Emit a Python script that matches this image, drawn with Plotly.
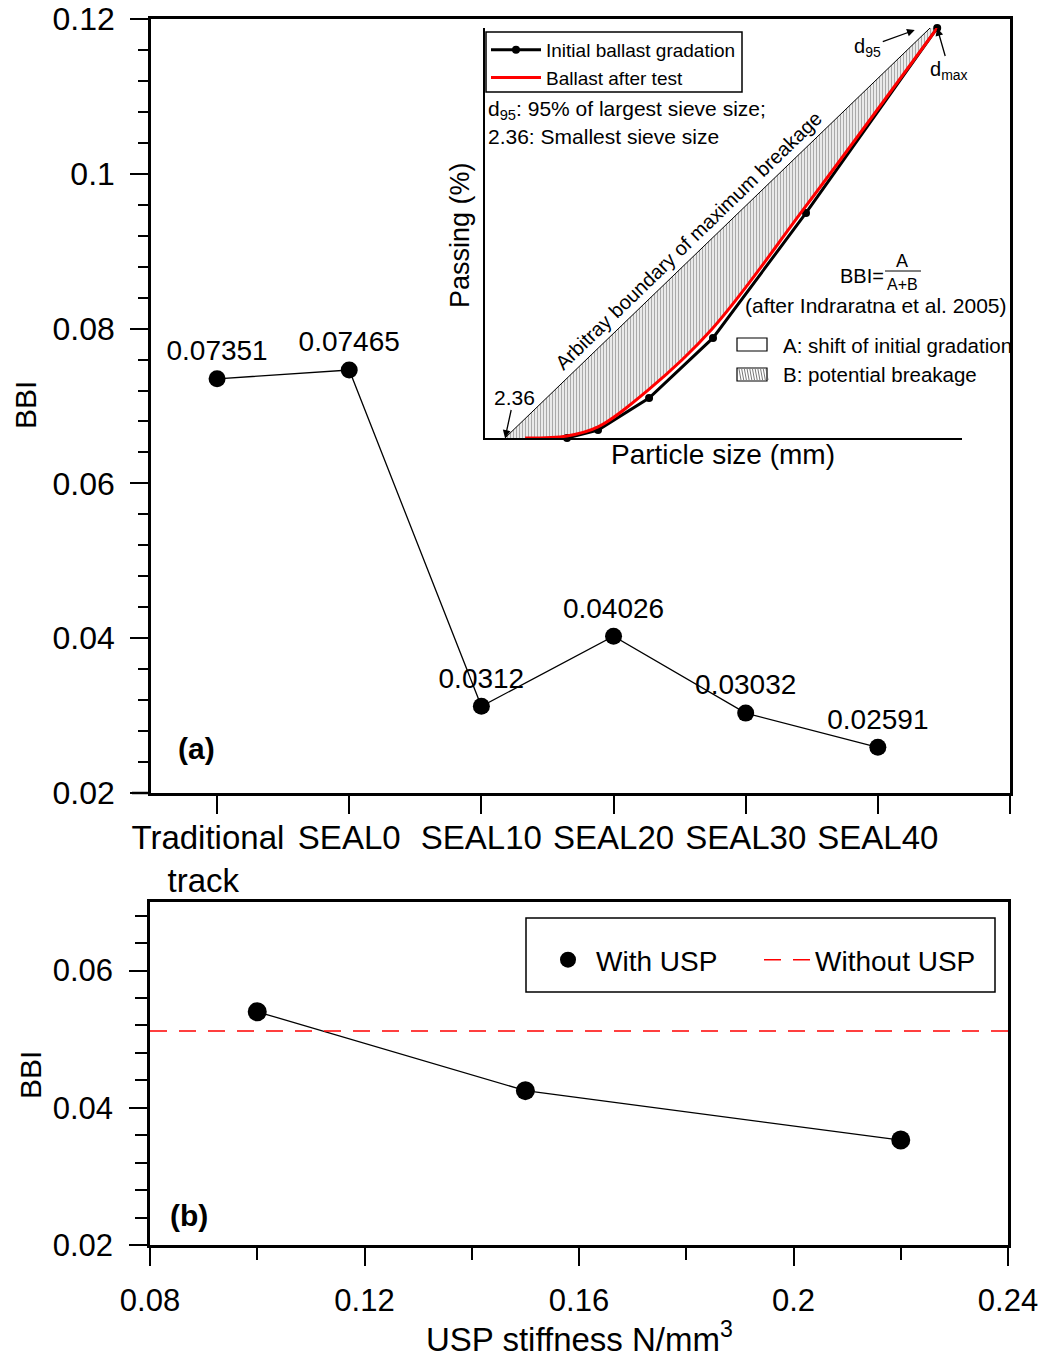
import plotly.graph_objects as go

W, H = 1046, 1358
FONT = "Liberation Sans, Arial, sans-serif"

# ---------------- data (a) ----------------
cases = ["Traditional&nbsp;&nbsp;<br>track&nbsp;&nbsp;&nbsp;", "SEAL0", "SEAL10", "SEAL20", "SEAL30", "SEAL40"]
bbi_a = [0.07351, 0.07465, 0.0312, 0.04026, 0.03032, 0.02591]
bbi_a_labels = ["0.07351", "0.07465", "0.0312", "0.04026", "0.03032", "0.02591"]
a_yticks = [0.02, 0.04, 0.06, 0.08, 0.10, 0.12]
a_yticklabels = ["0.02", "0.04", "0.06", "0.08", "0.1", "0.12"]

# ---------------- data (b) ----------------
usp_stiffness = [0.10, 0.15, 0.22]
bbi_b = [0.0540, 0.0425, 0.0353]
bbi_without_usp = 0.0512
b_xrange = [0.08, 0.24]
b_xticks = [0.08, 0.12, 0.16, 0.20, 0.24]
b_xticklabels = ["0.08", "0.12", "0.16", "0.2", "0.24"]
b_yticks = [0.02, 0.04, 0.06]
b_yticklabels = ["0.02", "0.04", "0.06"]

# ---------------- inset schematic (arbitrary units 0-100) ----------------
init_size = [17.2, 23.7, 34.4, 47.8, 67.3, 94.8]
init_pass = [0.0, 1.95, 9.76, 24.4, 54.9, 100.0]
after_size = [8.4, 17.2, 23.7, 34.0, 47.6, 67.3, 94.8]
after_pass = [0.0, 0.5, 2.7, 11.5, 26.6, 56.6, 100.0]
boundary_size = [4.2, 93.3]
boundary_pass = [0.0, 100.0]


def px(x):
    return x / W


def py(y):
    return 1 - y / H


fig = go.Figure()

# (a) main series
fig.add_trace(go.Scatter(
    x=list(range(len(cases))), y=bbi_a, mode="lines+markers+text",
    text=bbi_a_labels, textposition="top center",
    textfont=dict(size=28, color="black", family=FONT),
    line=dict(color="black", width=1.3), marker=dict(size=17, color="black"),
    showlegend=False, xaxis="x", yaxis="y", cliponaxis=False))

# inset: hatched region between boundary and after-test curve
hx = boundary_size + after_size[::-1] + [boundary_size[0]]
hy = boundary_pass + after_pass[::-1] + [boundary_pass[0]]
fig.add_trace(go.Scatter(
    x=hx, y=hy, mode="lines", fill="toself", line=dict(width=0, color="rgba(0,0,0,0)"),
    fillcolor="white",
    fillpattern=dict(shape="|", size=3, solidity=0.5, fgcolor="#555555", bgcolor="white"),
    showlegend=False, xaxis="x3", yaxis="y3", hoverinfo="skip"))
fig.add_trace(go.Scatter(
    x=boundary_size, y=boundary_pass, mode="lines", line=dict(color="black", width=1),
    showlegend=False, xaxis="x3", yaxis="y3"))
fig.add_trace(go.Scatter(
    x=init_size, y=init_pass, mode="lines+markers", name="Initial ballast gradation",
    line=dict(color="black", width=3), marker=dict(size=8, color="black"),
    xaxis="x3", yaxis="y3", legend="legend2", cliponaxis=False))
fig.add_trace(go.Scatter(
    x=after_size, y=after_pass, mode="lines", name="Ballast after test",
    line=dict(color="red", width=3), line_shape="spline",
    xaxis="x3", yaxis="y3", legend="legend2", cliponaxis=False))

# (b)
fig.add_trace(go.Scatter(
    x=usp_stiffness, y=bbi_b, mode="lines", line=dict(color="black", width=1.3),
    showlegend=False, xaxis="x2", yaxis="y2"))
fig.add_trace(go.Scatter(
    x=usp_stiffness, y=bbi_b, mode="markers", name="With USP",
    marker=dict(size=19, color="black"), xaxis="x2", yaxis="y2", legend="legend",
    cliponaxis=False))
fig.add_trace(go.Scatter(
    x=b_xrange, y=[bbi_without_usp, bbi_without_usp], mode="lines", name="Without USP",
    line=dict(color="red", width=1.5, dash="17px,12px"), xaxis="x2", yaxis="y2",
    legend="legend"))

axcommon = dict(showline=True, linecolor="black", linewidth=2.5, mirror=True,
                ticks="outside", tickcolor="black", tickwidth=2, ticklen=18,
                showgrid=False, zeroline=False, automargin=False, tickangle=0)


def tf(s):
    return dict(size=s, color="black", family=FONT)


fig.update_layout(
    width=W, height=H, margin=dict(l=0, r=0, t=0, b=0, autoexpand=False),
    paper_bgcolor="white", plot_bgcolor="white",
    font=dict(family=FONT, color="black"),
    xaxis=dict(domain=[px(151), px(1010)], range=[-0.5, 6.0],
               tickvals=list(range(7)), ticktext=cases + [""],
               anchor="y", tickfont=tf(33), ticklabelstandoff=-4, **axcommon),
    yaxis=dict(domain=[py(793), py(19)], range=[0.02, 0.12],
               tickvals=a_yticks, ticktext=a_yticklabels, anchor="x",
               minor=dict(dtick=0.004, tick0=0.02, ticks="outside", ticklen=10,
                          tickwidth=2, tickcolor="black"),
               tickfont=tf(32), ticklabelstandoff=9, **axcommon),
    xaxis2=dict(domain=[px(150), px(1008)], range=b_xrange,
                tickvals=b_xticks, ticktext=b_xticklabels, anchor="y2",
                minor=dict(dtick=0.02, tick0=0.08, ticks="outside", ticklen=12,
                           tickwidth=2, tickcolor="black"),
                tickfont=tf(31), ticklabelstandoff=8, **axcommon),
    yaxis2=dict(domain=[py(1245), py(902)], range=[0.02, 0.07],
                tickvals=b_yticks, ticktext=b_yticklabels, anchor="x2",
                minor=dict(dtick=0.004, tick0=0.02, ticks="outside", ticklen=12,
                           tickwidth=2, tickcolor="black"),
                tickfont=tf(31), ticklabelstandoff=10, **axcommon),
    xaxis3=dict(domain=[px(485), px(962)], range=[0, 100], anchor="y3",
                showline=True, linecolor="black", linewidth=1.5, mirror=False,
                showticklabels=False, ticks="", showgrid=False, zeroline=False,
                fixedrange=True, automargin=False),
    yaxis3=dict(domain=[py(438), py(28)], range=[0, 100], anchor="x3",
                showline=True, linecolor="black", linewidth=1.5, mirror=False,
                showticklabels=False, ticks="", showgrid=False, zeroline=False,
                fixedrange=True, automargin=False),
    legend=dict(orientation="h", x=px(540), y=py(935), xanchor="left", yanchor="top",
                bgcolor="rgba(0,0,0,0)", borderwidth=0, itemwidth=46,
                entrywidth=158, entrywidthmode="pixels",
                font=tf(28)),
    legend2=dict(orientation="v", x=px(486), y=py(31), xanchor="left", yanchor="top",
                 bgcolor="rgba(0,0,0,0)", borderwidth=0, tracegroupgap=0, itemwidth=50,
                 font=tf(19)),
)

shapes = [
    # legend boxes
    dict(type="rect", xref="paper", yref="paper", x0=px(526), x1=px(995), y0=py(918), y1=py(992),
         line=dict(color="black", width=1.5), fillcolor="rgba(0,0,0,0)"),
    dict(type="rect", xref="paper", yref="paper", x0=px(486), x1=px(742), y0=py(32), y1=py(92),
         line=dict(color="black", width=1.5), fillcolor="rgba(0,0,0,0)"),
    # A key box
    dict(type="rect", xref="paper", yref="paper", x0=px(737), x1=px(767), y0=py(338), y1=py(351),
         line=dict(color="black", width=1.2), fillcolor="white"),
    # B key box
    dict(type="rect", xref="paper", yref="paper", x0=px(737), x1=px(767), y0=py(368), y1=py(381),
         line=dict(color="black", width=1.2), fillcolor="white"),
    # fraction bar
    dict(type="line", xref="paper", yref="paper", x0=px(885), x1=px(921), y0=py(271), y1=py(271),
         line=dict(color="black", width=1)),
    # x-axis line extension left of y axis (a)
    dict(type="line", xref="paper", yref="paper", x0=px(132), x1=px(151), y0=py(793), y1=py(793),
         line=dict(color="black", width=2.5)),
]
# hatch lines in B key box
for i in range(11):
    xx = 739 + i * 2.7
    shapes.append(dict(type="line", xref="paper", yref="paper", x0=px(xx), x1=px(xx + 2),
                       y0=py(369), y1=py(380), line=dict(color="#555", width=0.8)))
fig.update_layout(shapes=shapes)

ann = []


def txt(x, y, s, size, xanchor="center", angle=0, bold=False):
    ann.append(dict(x=px(x), y=py(y), xref="paper", yref="paper", text=("<b>%s</b>" % s) if bold else s,
                    showarrow=False, xanchor=xanchor, yanchor="middle", textangle=angle,
                    font=tf(size)))


txt(25, 405, "BBI", 30, angle=-90)
txt(30, 1075, "BBI", 30, angle=-90)
txt(579, 1337, "USP stiffness N/mm<sup>3</sup>", 33)
txt(196, 748, "(a)", 30, bold=True)
txt(189, 1215, "(b)", 30, bold=True)
# inset texts
txt(486, 110, "d<sub>95</sub>: 95% of largest sieve size;", 21, xanchor="left")
txt(486, 137, "2.36: Smallest sieve size", 21, xanchor="left")
txt(460, 235, "Passing (%)", 27, angle=-90)
txt(723, 455, "Particle size (mm)", 28)
txt(688, 241, "Arbitray boundary of maximum breakage", 20, angle=-44)
txt(886, 276, "BBI=", 20, xanchor="right")
txt(902, 261, "A", 18)
txt(902, 284, "A+B", 16)
txt(876, 306, "(after Indraratna et al. 2005)", 21)
txt(781, 345, "A: shift of initial gradation", 20.5, xanchor="left")
txt(781, 374, "B: potential breakage", 20.5, xanchor="left")


def arrow(x, y, ax, ay, s, size):
    ann.append(dict(x=x, y=y, xref="x3", yref="y3", ax=ax, ay=ay, axref="pixel", ayref="pixel",
                    text=s, showarrow=True, arrowhead=2, arrowsize=1.2, arrowwidth=1.3,
                    arrowcolor="black", font=tf(size)))


arrow(boundary_size[0], boundary_pass[0], 9, -41, "2.36", 21)
arrow(90.1, 99.5, -47, 17, "d<sub>95</sub>", 20)
arrow(init_size[-1], init_pass[-1], 12, 42, "d<sub>max</sub>", 20)

fig.update_layout(annotations=ann)

fig.write_html("out.html")
